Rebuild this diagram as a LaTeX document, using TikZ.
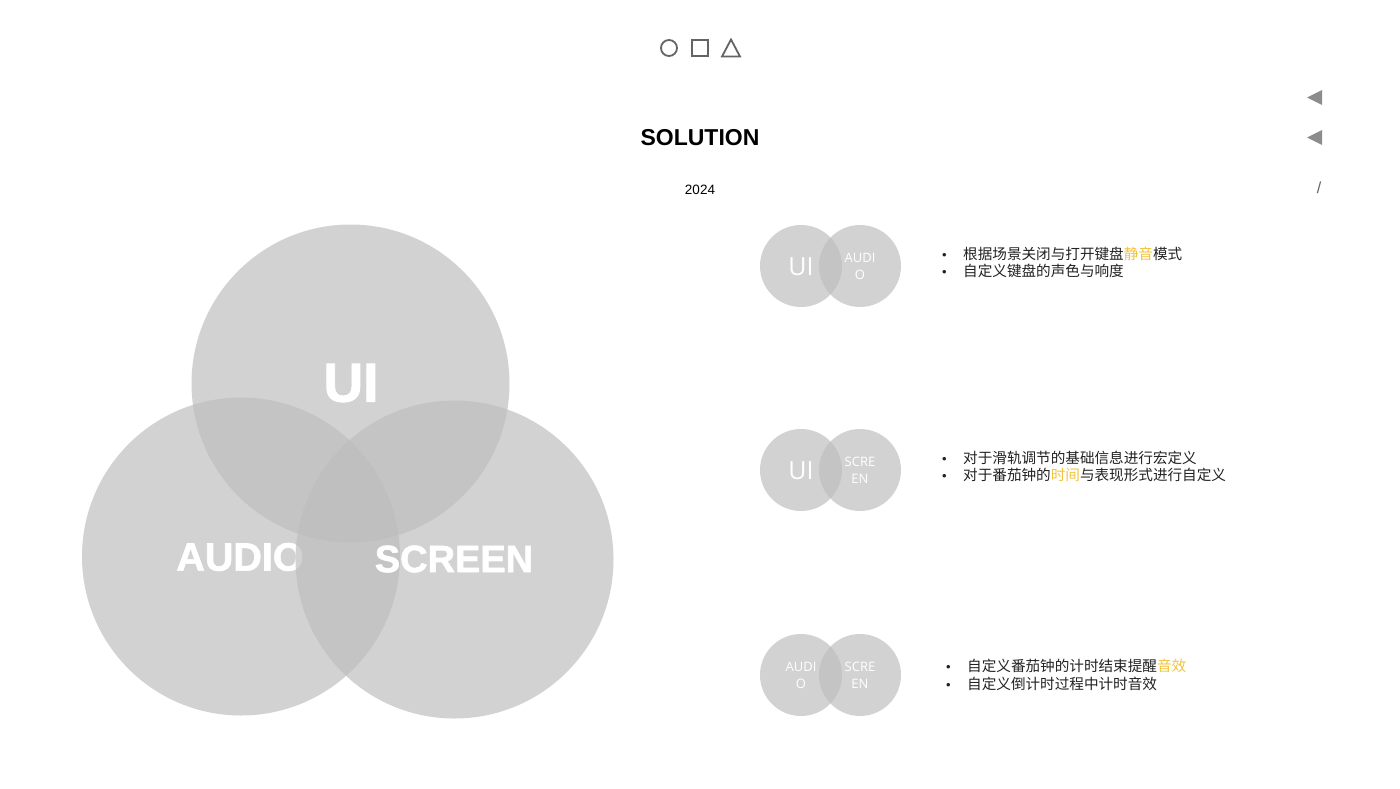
\documentclass[tikz,border=0pt]{standalone}
\usepackage{fontspec}
\setmainfont{Liberation Sans}
\newfontfamily\cjk{Noto Sans CJK SC}
\newfontfamily\lightsans{Open Sans}
\newfontfamily\heavy[FakeBold=1.6]{Liberation Sans}
\definecolor{vfill}{RGB}{190,190,190}
\definecolor{hl}{RGB}{242,196,60}
\definecolor{txt}{RGB}{34,34,34}
\definecolor{icon}{RGB}{100,100,100}
\definecolor{tri}{RGB}{140,140,140}
\newcommand{\bul}{\makebox[21pt][l]{\rmfamily\fontsize{13}{15}\selectfont •}}
\begin{document}
\begin{tikzpicture}[x=1pt,y=-1pt,
  bigc/.style={circle,fill=vfill,fill opacity=0.68,inner sep=0,minimum size=318pt},
  smallc/.style={circle,fill=vfill,fill opacity=0.68,inner sep=0,minimum size=82pt},
  bigt/.style={text=white,font=\heavy\fontsize{38}{40}\selectfont\bfseries,inner sep=0},
  smallt/.style={text=white,font=\lightsans\fontsize{13}{17}\selectfont,align=center,inner sep=0},
  smallui/.style={text=white,font=\lightsans\fontsize{25}{28}\selectfont,inner sep=0},
  line/.style={anchor=west,text=txt,font=\cjk\fontsize{14.6}{17}\selectfont,inner sep=0},
  iconline/.style={draw=icon,line width=1.8pt}
]
\useasboundingbox (0,0) rectangle (1400,788);
\fill[white] (0,0) rectangle (1400,788);

% top icons
\node[iconline,circle,minimum size=16pt,inner sep=0] (ic1) at (669,48) {};
\node[iconline,rectangle,minimum size=16pt,inner sep=0] (ic2) at (700,48) {};
\draw[iconline,line join=miter] (731,39.5) -- (740,56.5) -- (722,56.5) -- cycle;

% right markers
\fill[tri] (1307,97.5) -- (1322,90) -- (1322,105) -- cycle;
\fill[tri] (1307,137.5) -- (1322,130) -- (1322,145) -- cycle;
\node[text=icon,font=\fontsize{16}{18}\selectfont,inner sep=0] (slash) at (1319,188) {/};

% titles
\node[font=\fontsize{23}{26}\selectfont\bfseries,inner sep=0] (title) at (700,138) {SOLUTION};
\node[font=\fontsize{13.5}{15}\selectfont,inner sep=0] (year) at (700,190) {2024};

% big venn
\node[bigc] (cui) at (350.5,383.5) {};
\node[bigt,font=\heavy\fontsize{55}{58}\selectfont\bfseries] (tui) at (351,383) {UI};
\node[bigc] (caudio) at (241,556.5) {};
\node[bigt,font=\heavy\fontsize{39.5}{42}\selectfont\bfseries] (taudio) at (240,557) {AUDIO};
\node[bigc] (cscreen) at (454.5,559.5) {};
\node[bigt] (tscreen) at (454,559) {SCREEN};

% row 1
\node[smallc] (r1a) at (801,266) {};
\node[smallc] (r1b) at (860,266) {};
\node[smallui] (r1at) at (801,267) {UI};
\node[smallt] (r1bt) at (860,266) {AUDI\\O};
\node[line] (r1l1) at (942,254) {\bul 根据场景关闭与打开键盘\textcolor{hl}{静音}模式};
\node[line] (r1l2) at (942,271) {\bul 自定义键盘的声色与响度};

% row 2
\node[smallc] (r2a) at (801,470) {};
\node[smallc] (r2b) at (860,470) {};
\node[smallui] (r2at) at (801,471) {UI};
\node[smallt] (r2bt) at (860,470) {SCRE\\EN};
\node[line] (r2l1) at (942,458) {\bul 对于滑轨调节的基础信息进行宏定义};
\node[line] (r2l2) at (942,475) {\bul 对于番茄钟的\textcolor{hl}{时间}与表现形式进行自定义};

% row 3
\node[smallc] (r3a) at (801,675) {};
\node[smallc] (r3b) at (860,675) {};
\node[smallt] (r3at) at (801,675) {AUDI\\O};
\node[smallt] (r3bt) at (860,675) {SCRE\\EN};
\node[line] (r3l1) at (946,666) {\bul 自定义番茄钟的计时结束提醒\textcolor{hl}{音效}};
\node[line] (r3l2) at (946,684) {\bul 自定义倒计时过程中计时音效};
\end{tikzpicture}
\end{document}
